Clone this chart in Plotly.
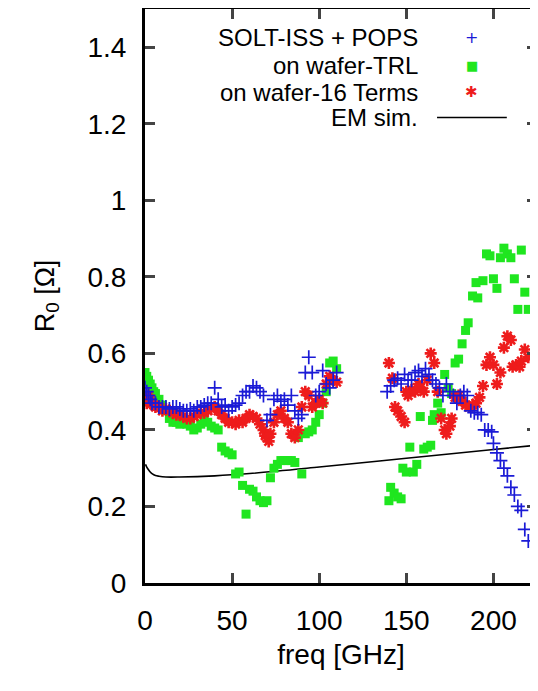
import plotly.graph_objects as go

# SOLT-ISS + POPS (blue crosses)
solt_f = [0, 1, 2, 3, 4, 6, 8, 10, 12, 14, 16, 18, 20, 22, 24, 26, 28, 30, 32, 34, 36, 38,
          40, 42, 44, 46, 48, 50, 52, 54, 56, 58, 60, 62, 64, 66, 68, 70, 72, 74, 76, 78, 80,
          82, 84, 86, 88, 90, 92, 94, 96, 98, 100, 102, 104, 106, 108, 110,
          139, 141, 143, 145, 147, 149, 151, 153, 155, 157, 159, 161, 163, 165, 167, 169, 171,
          173, 175, 177, 179, 181, 183, 185, 187, 189, 191, 193, 195, 197, 199, 200, 202, 204,
          206, 208, 210, 212, 214, 216, 218, 220]
solt_r = [0.51, 0.50, 0.49, 0.48, 0.47, 0.47, 0.46, 0.46, 0.46, 0.455, 0.46, 0.46, 0.455, 0.45,
          0.45, 0.455, 0.45, 0.46, 0.46, 0.465, 0.47, 0.47, 0.51, 0.48, 0.46, 0.465, 0.45, 0.46,
          0.465, 0.47, 0.49, 0.50, 0.50, 0.515, 0.51, 0.50, 0.49, 0.425, 0.44, 0.48, 0.49, 0.475,
          0.48, 0.465, 0.49, 0.45, 0.43, 0.44, 0.55, 0.59, 0.55, 0.49, 0.50, 0.555, 0.52, 0.51,
          0.53, 0.55,
          0.50, 0.515, 0.53, 0.535, 0.52, 0.545, 0.53, 0.53, 0.55, 0.555, 0.54, 0.56, 0.545, 0.53,
          0.52, 0.51, 0.49, 0.52, 0.50, 0.49, 0.47, 0.49, 0.50, 0.49, 0.45, 0.445, 0.445, 0.44,
          0.40, 0.40, 0.395, 0.365, 0.34, 0.32, 0.30, 0.28, 0.25, 0.23, 0.20, 0.19, 0.14, 0.11]

# on wafer-TRL (green squares)
trl_f = [0, 1, 2, 3, 4, 5, 6, 8, 10, 12, 14, 16, 18, 20, 22, 24, 26, 28, 30, 32, 34, 36, 38, 40,
         42, 44, 46, 48, 50, 52, 54, 56, 58, 60, 62, 64, 66, 68, 70, 72, 74, 76, 78, 80, 82, 84,
         86, 88, 90, 92, 94, 96, 98, 100, 102, 104, 106, 108, 110,
         140, 141, 143, 145, 147, 148, 150, 152, 154, 156, 158, 160, 162, 164, 165, 166, 168,
         170, 172, 174, 176, 178, 180, 182, 184, 185.5, 188, 190, 191, 194, 196, 198, 200, 202,
         204, 206, 208, 210, 212, 214, 216, 218, 220]
trl_r = [0.55, 0.54, 0.53, 0.52, 0.51, 0.50, 0.495, 0.48, 0.465, 0.45, 0.43, 0.42, 0.42, 0.415,
         0.43, 0.415, 0.41, 0.40, 0.405, 0.415, 0.425, 0.42, 0.41, 0.405, 0.40, 0.355, 0.345,
         0.34, 0.335, 0.285, 0.29, 0.255, 0.18, 0.245, 0.24, 0.225, 0.215, 0.21, 0.215, 0.275,
         0.30, 0.31, 0.32, 0.32, 0.32, 0.32, 0.315, 0.38, 0.285, 0.39, 0.395, 0.40, 0.42, 0.44,
         0.47, 0.50, 0.575, 0.58, 0.56,
         0.215, 0.25, 0.235, 0.225, 0.22, 0.30, 0.29, 0.355, 0.29, 0.31, 0.435, 0.35, 0.355,
         0.36, 0.425, 0.44, 0.47, 0.445, 0.545, 0.51, 0.495, 0.575, 0.585, 0.625, 0.66, 0.68,
         0.75, 0.785, 0.745, 0.79, 0.86, 0.855, 0.795, 0.77, 0.85, 0.875, 0.86, 0.85, 0.795,
         0.715, 0.87, 0.76, 0.715]

# on wafer-16 Terms (red stars)
t16_f = [0, 1, 2, 3, 4, 5, 6, 8, 10, 12, 14, 16, 18, 20, 22, 24, 26, 28, 30, 32, 34, 36, 38, 40,
         42, 44, 46, 48, 50, 52, 54, 56, 58, 60, 62, 64, 66, 68, 69, 70, 71, 72, 74, 76, 78, 80,
         82, 84, 86, 88, 90, 92, 94, 96, 98, 100, 102, 104, 106, 108, 110,
         140, 142, 143.5, 145, 147, 149, 150, 151, 153, 155, 157, 158, 160, 162, 164, 166, 168,
         170, 172, 173, 175, 176, 178, 180, 182, 184, 186, 188, 190, 192, 194, 196, 198, 200,
         202, 204, 206, 208, 210, 211, 213, 215, 216, 218, 220]
t16_r = [0.48, 0.47, 0.49, 0.48, 0.47, 0.465, 0.46, 0.46, 0.45, 0.455, 0.45, 0.445, 0.44, 0.44,
         0.435, 0.43, 0.43, 0.435, 0.44, 0.445, 0.445, 0.45, 0.455, 0.46, 0.45, 0.44, 0.43, 0.42,
         0.42, 0.415, 0.425, 0.42, 0.43, 0.44, 0.435, 0.43, 0.415, 0.40, 0.385, 0.38, 0.37, 0.39,
         0.42, 0.44, 0.45, 0.43, 0.42, 0.39, 0.38, 0.40, 0.46, 0.50, 0.49, 0.46, 0.47, 0.48, 0.47,
         0.52, 0.54, 0.53, 0.525,
         0.575, 0.535, 0.46, 0.45, 0.435, 0.42, 0.50, 0.49, 0.505, 0.50, 0.52, 0.51, 0.50, 0.53,
         0.60, 0.575, 0.50, 0.43, 0.40, 0.39, 0.41, 0.43, 0.485, 0.49, 0.475, 0.465, 0.46, 0.465,
         0.47, 0.485, 0.515, 0.57, 0.59, 0.57, 0.52, 0.55, 0.615, 0.645, 0.635, 0.565, 0.57,
         0.565, 0.58, 0.61, 0.59]

# EM simulation (black line)
em_f = [0.3, 1, 2, 3, 4, 6, 8, 12, 20, 40, 60, 100, 150, 200, 225]
em_r = [0.31, 0.303, 0.296, 0.29, 0.286, 0.281, 0.279, 0.277, 0.277, 0.280, 0.286, 0.303,
        0.326, 0.349, 0.36]

labels = ["SOLT-ISS + POPS", "on wafer-TRL", "on wafer-16 Terms", "EM sim."]

BLUE = "#1a1ad6"
GREEN = "#1fe61f"
RED = "#ee1c1c"
FONT = "Liberation Sans, Arial, sans-serif"

fig = go.Figure()
fig.add_trace(go.Scatter(x=em_f, y=em_r, mode="lines", name=labels[3],
                         line=dict(color="black", width=1.6, shape="spline")))
fig.add_trace(go.Scatter(x=trl_f, y=trl_r, mode="markers", name=labels[1],
                         marker=dict(symbol="square", size=9, color=GREEN)))
fig.add_trace(go.Scatter(x=t16_f, y=t16_r, mode="markers", name=labels[2],
                         marker=dict(symbol="asterisk-open", size=10, color=RED,
                                     line=dict(color=RED, width=2.6))))
fig.add_trace(go.Scatter(x=solt_f, y=solt_r, mode="markers", name=labels[0],
                         marker=dict(symbol="cross-thin-open", size=10, color=BLUE,
                                     line=dict(color=BLUE, width=1.7))))

# hand-made legend: right-aligned text with sample to the right
rows = [0.950, 0.902, 0.855, 0.811]
glyphs = [("+", BLUE, 16), ("\u25a0", GREEN, 13), ("\u2731", RED, 15)]
for lab, yy in zip(labels, rows):
    fig.add_annotation(x=0.702, y=yy, xref="paper", yref="paper", text=lab,
                       showarrow=False, xanchor="right", yanchor="middle",
                       font=dict(family=FONT, size=24, color="black"))
for (g, c, s), yy in zip(glyphs, rows):
    fig.add_annotation(x=0.834, y=yy, xref="paper", yref="paper", text=g,
                       showarrow=False, xanchor="center", yanchor="middle",
                       font=dict(family="DejaVu Sans", size=s, color=c))
fig.add_shape(type="line", xref="paper", yref="paper", x0=0.745, x1=0.923,
              y0=rows[3], y1=rows[3], line=dict(color="black", width=1.6))

# page body has an 8px margin, so the figure is 8px smaller on each axis
fig.update_layout(
    width=530, height=683,
    margin=dict(l=137, r=1, t=1, b=108),
    paper_bgcolor="white", plot_bgcolor="white",
    showlegend=False,
    font=dict(family=FONT, size=28, color="black"),
)
fig.update_xaxes(range=[0, 225], tickvals=[0, 50, 100, 150, 200], ticks="inside",
                 ticklen=10, tickwidth=2.5, showline=True, linewidth=3, linecolor="black",
                 mirror="ticks", showgrid=False, zeroline=False, ticklabelstandoff=10,
                 automargin=False,
                 title=dict(text="freq [GHz]", standoff=10, font=dict(size=28)))
fig.update_yaxes(range=[0, 1.5], tickvals=[0, 0.2, 0.4, 0.6, 0.8, 1, 1.2, 1.4],
                 ticktext=["0", "0.2", "0.4", "0.6", "0.8", "1", "1.2", "1.4"],
                 ticks="inside", ticklen=10, tickwidth=2.5, showline=True, linewidth=3,
                 linecolor="black", mirror="ticks", showgrid=False, zeroline=False,
                 ticklabelstandoff=10, automargin=False,
                 title=dict(text="R<sub>0</sub> [\u03a9]", standoff=26, font=dict(size=27)))

fig.write_html("out.html")
